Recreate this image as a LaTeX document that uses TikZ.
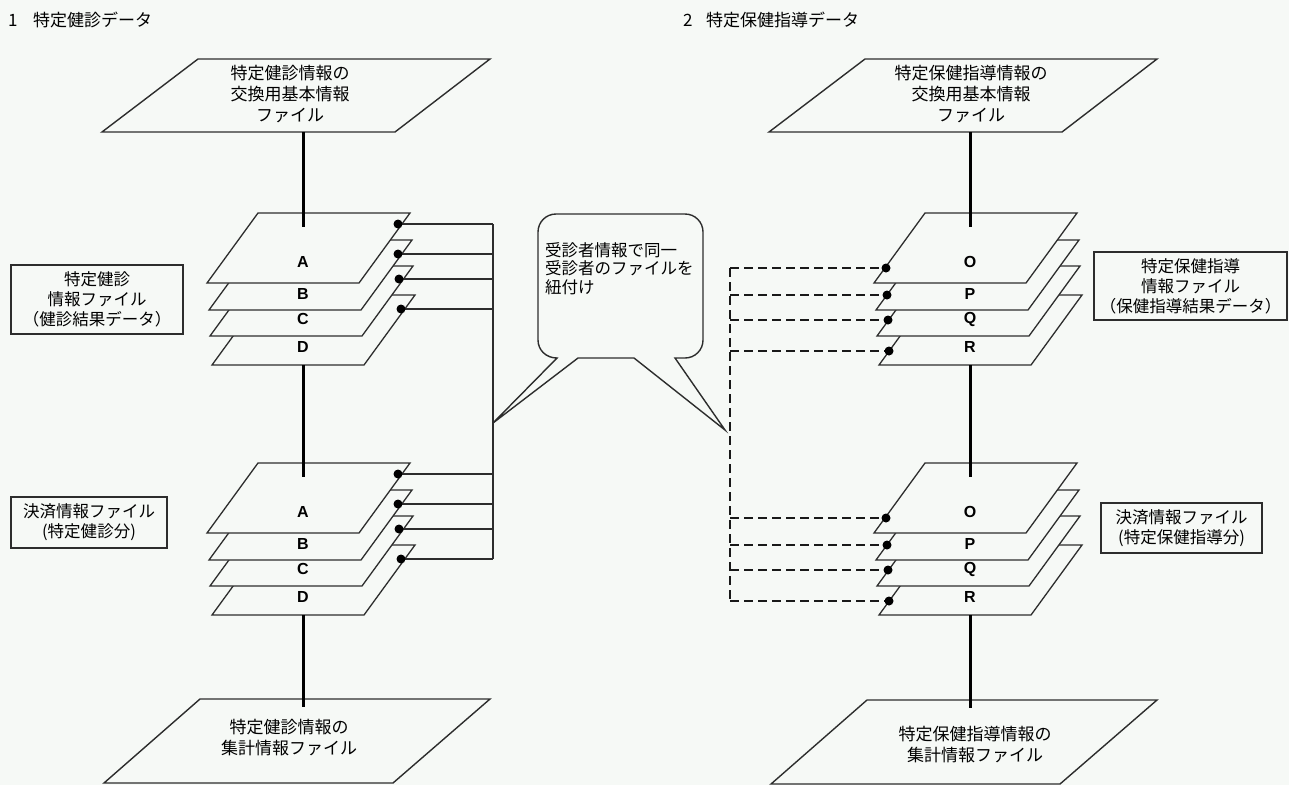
\documentclass[tikz,border=0pt]{standalone}
\usepackage{fontspec}
\setmainfont{Liberation Sans}
\newfontfamily\jp{Noto Sans CJK JP}
\definecolor{bg}{RGB}{246,249,246}
\definecolor{ln}{RGB}{45,45,45}
\newcommand\drawsheet[2]{\draw[sheetln] (#1,#2) -- ++(152,0) -- ++(-51,70) -- ++(-152,0) -- cycle;}
\begin{document}
\begin{tikzpicture}[x=1pt,y=-1pt,
  sheetln/.style={draw=ln, line width=1.3pt, fill=bg},
  bigpar/.style={draw=ln, line width=1.4pt, fill=bg},
  trunk/.style={draw=black, line width=3pt},
  link/.style={draw=ln, line width=1.4pt},
  dlink/.style={draw=black!90, line width=2.2pt, dash pattern=on 9pt off 5pt},
  dotm/.style={circle, fill=black, inner sep=0pt, minimum size=9pt},
  jt/.style={font=\jp\fontsize{17}{21}\selectfont, align=center, inner sep=0pt},
  bt/.style={font=\jp\fontsize{16.5}{20}\selectfont, align=center, inner sep=0pt},
  letr/.style={font=\fontsize{16}{16}\selectfont\bfseries, inner sep=0pt},
  lbox/.style={draw=ln, line width=1.5pt, fill=bg},
  hdr/.style={font=\jp\fontsize{17}{17}\selectfont, anchor=west, inner sep=0pt}
]
\fill[bg] (0,0) rectangle (1289,785);
\useasboundingbox (0,0) rectangle (1289,785);

% big parallelograms
\draw[bigpar] (198,59) -- (490,59) -- (395,132) -- (102,132) -- cycle;
\draw[bigpar] (865,59) -- (1157,59) -- (1062,132) -- (769,132) -- cycle;
\draw[bigpar] (200,699) -- (490,699) -- (393,783) -- (104,783) -- cycle;
\draw[bigpar] (867,700) -- (1157,700) -- (1060,784) -- (771,784) -- cycle;
\node[jt] (tl) at (290,94) {特定健診情報の\\交換用基本情報\\ファイル};
\node[jt] (tr) at (971,94) {特定保健指導情報の\\交換用基本情報\\ファイル};
\node[jt] (bl) at (289,738) {特定健診情報の\\集計情報ファイル};
\node[jt] (br) at (975,745) {特定保健指導情報の\\集計情報ファイル};

% stacks of sheets
\foreach \dx/\dy in {0/0, 0/250, 667/0, 667/250} {
  \foreach \sx/\sy in {263/295, 261/266, 260/240, 258/213} {
    \drawsheet{\sx+\dx}{\sy+\dy}
  }
}
\foreach \n/\t/\y in {1/A/262, 2/B/294, 3/C/319, 4/D/347} {
  \node[letr] (ua\n) at (303,\y) {\t};
  \node[letr] (la\n) at (303,\y+250) {\t};
}
\foreach \n/\t/\y in {1/O/262, 2/P/294, 3/Q/319, 4/R/347} {
  \node[letr] (ur\n) at (970,\y) {\t};
  \node[letr] (lr\n) at (970,\y+250) {\t};
}

% trunks
\coordinate (t1a) at (303,132); \coordinate (t1b) at (303,227);
\coordinate (t2a) at (303,365); \coordinate (t2b) at (303,477);
\coordinate (t3a) at (303,615); \coordinate (t3b) at (303,707);
\coordinate (r1a) at (970,132); \coordinate (r1b) at (970,227);
\coordinate (r2a) at (970,365); \coordinate (r2b) at (970,477);
\coordinate (r3a) at (970,615); \coordinate (r3b) at (970,708);
\draw[trunk] (t1a) -- (t1b); \draw[trunk] (t2a) -- (t2b); \draw[trunk] (t3a) -- (t3b);
\draw[trunk] (r1a) -- (r1b); \draw[trunk] (r2a) -- (r2b); \draw[trunk] (r3a) -- (r3b);

% left solid bracket
\foreach \n/\x/\y in {1/398/224, 2/398/254, 3/399/279, 4/401/309, 5/398/474, 6/398/504, 7/399/529, 8/401/559} {
  \coordinate (dl\n) at (\x,\y);
  \coordinate (bl\n) at (493,\y);
}
\foreach \n in {1,...,8} { \draw[link] (dl\n) -- (bl\n); }
\draw[link] (bl1) -- (bl8);

% right dashed bracket
\foreach \n/\x/\y in {1/886/268, 2/887/295, 3/888/320, 4/889/351, 5/886/518, 6/887/545, 7/888/570, 8/889/601} {
  \coordinate (dr\n) at (\x,\y);
  \coordinate (br\n) at (730,\y);
}
\foreach \n in {1,...,8} { \draw[dlink] (br\n) -- (dr\n); }
\draw[dlink] (br1) -- (br8);

% dots
\foreach \n in {1,...,8} {
  \node[dotm] (ldot\n) at (dl\n) {};
  \node[dotm] (rdot\n) at (dr\n) {};
}

% callout
\draw[draw=ln, line width=1.4pt, fill=bg]
  (556,214) -- (685,214) .. controls (695,214) and (703,222) .. (703,232)
  -- (703,340) .. controls (703,350) and (695,358) .. (685,358)
  -- (675,358) -- (725,430) -- (634,358) -- (578,358) -- (493,423) -- (557,358)
  .. controls (546,358) and (538,350) .. (538,340)
  -- (538,232) .. controls (538,222) and (546,214) .. (556,214) -- cycle;
\node[font=\jp\fontsize{16.5}{18.5}\selectfont, align=left, inner sep=0pt, anchor=north west] (co) at (545,242) {受診者情報で同一\\受診者のファイルを\\紐付け};

% label boxes
\node[lbox, bt, minimum width=172pt, minimum height=69pt] (lb1) at (97,299.5) {特定健診\\情報ファイル\\（健診結果データ）};
\node[lbox, bt, minimum width=156pt, minimum height=51pt] (lb2) at (89,522.5) {決済情報ファイル\\(特定健診分)};
\node[lbox, bt, minimum width=193pt, minimum height=68pt] (rb1) at (1190.5,286) {特定保健指導\\情報ファイル\\（保健指導結果データ）};
\node[lbox, bt, minimum width=161pt, minimum height=50pt] (rb2) at (1181.5,528) {決済情報ファイル\\(特定保健指導分)};

% headers
\node[hdr] (h1) at (8,20) {\makebox[25pt][l]{1}特定健診データ};
\node[hdr] (h2) at (683,20) {\makebox[23pt][l]{2}特定保健指導データ};
\end{tikzpicture}
\end{document}
